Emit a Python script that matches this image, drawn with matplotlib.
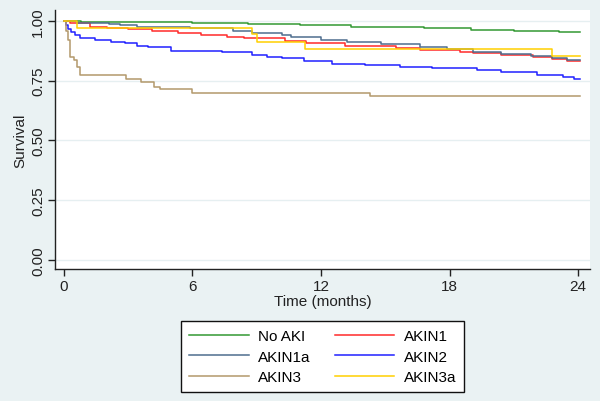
import matplotlib
matplotlib.use("Agg")
import matplotlib.pyplot as plt

plt.rcParams['font.family'] = ['Liberation Sans', 'DejaVu Sans']

# ---- data ----
labels = ["No AKI", "AKIN1", "AKIN1a", "AKIN2", "AKIN3", "AKIN3a"]

t_noaki = [0, 0.8, 2.9, 6.0, 8.6, 11.0, 13.4, 16.8, 19.0, 21.0, 23.1, 24.1]
s_noaki = [1.0, 0.997, 0.995, 0.992, 0.987, 0.982, 0.976, 0.969, 0.964, 0.960, 0.956, 0.956]

t_akin1 = [0, 0.3, 1.2, 2.0, 3.0, 4.1, 5.3, 6.4, 7.6, 8.4, 10.3, 11.3, 13.1, 15.5, 16.6, 18.5, 19.1, 20.4, 21.9, 22.8, 23.5, 24.1]
s_akin1 = [1.0, 0.990, 0.976, 0.971, 0.966, 0.959, 0.951, 0.943, 0.935, 0.927, 0.917, 0.909, 0.896, 0.888, 0.878, 0.871, 0.864, 0.857, 0.850, 0.842, 0.833, 0.833]

t_akin1a = [0, 0.6, 2.1, 2.6, 3.4, 5.9, 7.9, 8.8, 10.2, 10.6, 12.0, 13.2, 14.8, 16.6, 17.9, 19.1, 20.4, 21.8, 22.8, 23.5, 24.1]
s_akin1a = [1.0, 0.992, 0.988, 0.982, 0.976, 0.969, 0.959, 0.949, 0.941, 0.931, 0.920, 0.913, 0.903, 0.892, 0.881, 0.871, 0.863, 0.854, 0.846, 0.838, 0.838]

t_akin2 = [0, 0.1, 0.2, 0.35, 0.5, 0.75, 1.45, 2.2, 2.85, 3.4, 3.9, 5.0, 7.4, 8.8, 9.5, 10.2, 11.2, 12.5, 14.05, 15.7, 17.2, 19.3, 20.4, 22.1, 23.3, 23.8, 24.1]
s_akin2 = [1.0, 0.985, 0.967, 0.952, 0.940, 0.930, 0.920, 0.913, 0.906, 0.897, 0.890, 0.876, 0.869, 0.858, 0.851, 0.844, 0.832, 0.821, 0.815, 0.809, 0.802, 0.794, 0.785, 0.774, 0.765, 0.758, 0.758]

t_akin3 = [0, 0.1, 0.2, 0.3, 0.45, 0.6, 0.75, 2.9, 3.6, 4.2, 4.5, 6.0, 14.3, 24.1]
s_akin3 = [1.0, 0.957, 0.920, 0.851, 0.837, 0.808, 0.773, 0.759, 0.745, 0.724, 0.714, 0.699, 0.685, 0.685]

t_akin3a = [0, 0.6, 8.8, 9.0, 11.25, 22.8, 24.1]
s_akin3a = [1.0, 0.969, 0.946, 0.911, 0.883, 0.852, 0.852]

x_ticks = [0, 6, 12, 18, 24]
y_ticks = [0.0, 0.25, 0.5, 0.75, 1.0]
y_ticklabels = ["0.00", "0.25", "0.50", "0.75", "1.00"]

colors = ["#339933", "#ff2a2a", "#4e6e8e", "#2020ff", "#b3996b", "#ffd000"]

series = [(t_noaki, s_noaki), (t_akin1, s_akin1), (t_akin1a, s_akin1a),
          (t_akin2, s_akin2), (t_akin3, s_akin3), (t_akin3a, s_akin3a)]

bg = "#eaf2f3"
fs = 11
fig = plt.figure(figsize=(6.0, 4.02), dpi=100, facecolor=bg)
ax = fig.add_axes([55/600, 1-270/402, 535/600, 259/402])
ax.set_facecolor("white")

handles = []
for (t, s), c, lab in zip(series, colors, labels):
    h, = ax.plot(t, s, drawstyle="steps-post", color=c, lw=1.1, label=lab)
    handles.append(h)

ax.set_xlim(-0.42, 24.56)
ax.set_ylim(-0.038, 1.046)
ax.set_xticks(x_ticks)
ax.set_xticklabels([str(v) for v in x_ticks], fontsize=fs, color="#222222")
ax.set_yticks(y_ticks)
ax.set_yticklabels(y_ticklabels, fontsize=fs, rotation=90, va="center", color="#222222")
ax.tick_params(axis="both", direction="out", length=5, width=1, color="#222222")
ax.tick_params(axis="x", pad=2)
ax.tick_params(axis="y", pad=2)
ax.grid(axis="y", color="#e6eff1", lw=1.0)
ax.set_axisbelow(True)
for sp in ["top", "right"]:
    ax.spines[sp].set_visible(False)
for sp in ["left", "bottom"]:
    ax.spines[sp].set_color("#222222")
    ax.spines[sp].set_linewidth(1.0)

ax.set_xlabel("Time (months)", fontsize=fs, labelpad=1, color="#222222")
ax.set_ylabel("Survival", fontsize=fs, labelpad=3, color="#222222")

# row-wise legend order (matplotlib fills columns first)
order = [0, 2, 4, 1, 3, 5]
leg = fig.legend([handles[i] for i in order], [labels[i] for i in order],
                 loc="center", bbox_to_anchor=((183+462)/2/600, 1-(322+393)/2/402),
                 ncol=2, fontsize=fs, frameon=True, fancybox=False,
                 handlelength=3.9, handletextpad=0.6, columnspacing=1.6,
                 labelspacing=0.42, borderpad=0.5)
leg.get_frame().set_edgecolor("#111111")
leg.get_frame().set_linewidth(1.0)
leg.get_frame().set_facecolor("white")
leg.get_frame().set_alpha(1)

fig.savefig("out.png", dpi=100, facecolor=bg)
